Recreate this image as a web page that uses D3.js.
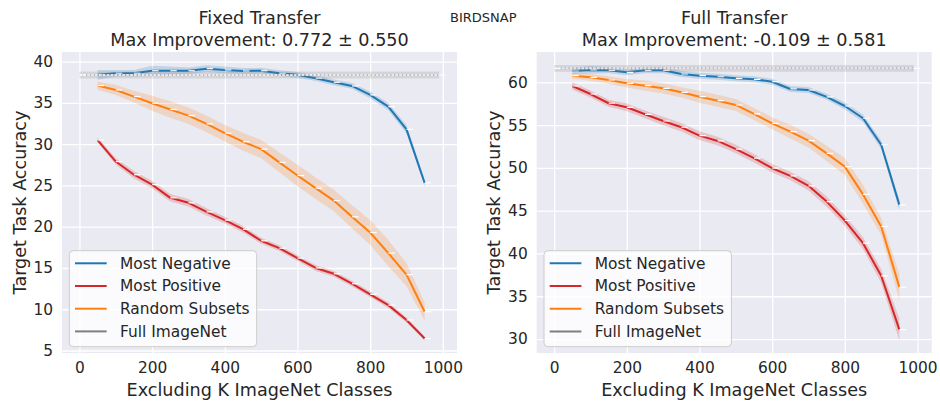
<!DOCTYPE html>
<html>
<head>
<meta charset="utf-8">
<script src="https://cdn.jsdelivr.net/npm/d3@7"></script>
<style>
  body { margin: 0; background: #fff; }
  svg { display: block; font-family: "DejaVu Sans", sans-serif; }
</style>
</head>
<body>
<svg id="chart" width="940" height="401"></svg>
<script>
// Number of excluded ImageNet classes
const kValues = [50, 100, 150, 200, 250, 300, 350, 400, 450, 500, 550, 600, 650, 700, 750, 800, 850, 900, 950];
const fullKValues = [0, 990];
const xTicks = [0, 200, 400, 600, 800, 1000];
const seriesNames = ["Most Negative", "Most Positive", "Random Subsets", "Full ImageNet"];

// Fixed transfer: mean accuracy and confidence half-width
const fixedNegative    = [38.4, 38.6, 38.6, 38.9, 38.9, 38.9, 39.15, 39.0, 38.87, 38.9, 38.6, 38.4, 38.0, 37.5, 37.06, 35.97, 34.55, 31.8, 25.3];
const fixedNegativeErr = [0.6, 0.4, 0.4, 0.6, 0.5, 0.4, 0.4, 0.4, 0.35, 0.35, 0.35, 0.35, 0.35, 0.35, 0.35, 0.4, 0.45, 0.5, 0.4];
const fixedPositive    = [30.5, 27.9, 26.3, 25.1, 23.5, 22.9, 21.8, 20.8, 19.7, 18.3, 17.4, 16.2, 15.0, 14.3, 13.1, 11.8, 10.5, 8.7, 6.45];
const fixedPositiveErr = [0.3, 0.4, 0.45, 0.45, 0.45, 0.45, 0.45, 0.4, 0.4, 0.35, 0.35, 0.35, 0.35, 0.35, 0.35, 0.35, 0.35, 0.3, 0.25];
const fixedRandom      = [37.1, 36.57, 35.76, 34.96, 34.2, 33.46, 32.46, 31.33, 30.3, 29.4, 27.8, 26.2, 24.67, 23.17, 21.2, 19.3, 16.8, 14.2, 9.7];
const fixedRandomErr   = [0.5, 0.6, 0.7, 0.9, 1.0, 1.0, 1.0, 1.0, 1.1, 1.1, 1.2, 1.3, 1.3, 1.3, 1.4, 1.5, 1.6, 1.4, 1.1];
const fixedFull        = [38.39, 38.39];
const fixedFullErr     = [0.42, 0.42];

// Full transfer: mean accuracy and confidence half-width
const fullNegative     = [61.32, 61.44, 61.4, 61.17, 61.4, 61.4, 60.97, 60.77, 60.65, 60.46, 60.35, 60.07, 59.22, 59.1, 58.3, 57.23, 55.8, 52.7, 45.68];
const fullNegativeErr  = [0.35, 0.45, 0.35, 0.35, 0.35, 0.35, 0.35, 0.35, 0.35, 0.35, 0.35, 0.35, 0.35, 0.35, 0.35, 0.4, 0.45, 0.5, 0.6];
const fullPositive     = [59.57, 58.63, 57.55, 57.08, 56.26, 55.48, 54.75, 53.77, 53.15, 52.2, 51.13, 49.96, 49.06, 47.9, 46.06, 43.85, 41.2, 37.39, 31.1];
const fullPositiveErr  = [0.45, 0.4, 0.4, 0.45, 0.45, 0.5, 0.5, 0.5, 0.5, 0.5, 0.5, 0.5, 0.5, 0.55, 0.6, 0.6, 0.7, 0.8, 1.3];
const fullRandom       = [60.77, 60.58, 60.27, 59.88, 59.6, 59.3, 58.83, 58.32, 57.85, 57.35, 56.3, 55.2, 54.23, 53.18, 51.7, 50.15, 46.9, 43.15, 36.07];
const fullRandomErr    = [0.35, 0.4, 0.45, 0.5, 0.6, 0.6, 0.6, 0.7, 0.7, 0.7, 0.7, 0.7, 0.8, 0.8, 0.9, 1.0, 1.1, 1.0, 1.5];
const fullFull         = [61.63, 61.63];
const fullFullErr      = [0.4, 0.4];

const fixedYTicks = [5, 10, 15, 20, 25, 30, 35, 40];
const fullYTicks = [30, 35, 40, 45, 50, 55, 60];

const colors = { "Most Negative": "#1f77b4", "Most Positive": "#d62728", "Random Subsets": "#ff7f0e", "Full ImageNet": "#7f7f7f" };
const textColor = "#262626";

const svg = d3.select("#chart");

svg.append("text")
  .attr("x", 483.3).attr("y", 22)
  .attr("text-anchor", "middle")
  .attr("font-size", 13)
  .attr("fill", textColor)
  .text("BIRDSNAP");

function series(name, xs, ys, errs) {
  return { name, points: xs.map((x, i) => ({ x, y: ys[i], e: errs[i] })) };
}

const panels = [
  {
    left: 62, top: 52, width: 395, height: 301,
    yDomain: [4.7, 41.17], yTicks: fixedYTicks,
    title: "Fixed Transfer", subtitle: "Max Improvement: 0.772 \u00b1 0.550",
    series: [
      series("Most Negative", kValues, fixedNegative, fixedNegativeErr),
      series("Most Positive", kValues, fixedPositive, fixedPositiveErr),
      series("Random Subsets", kValues, fixedRandom, fixedRandomErr),
      series("Full ImageNet", fullKValues, fixedFull, fixedFullErr)
    ]
  },
  {
    left: 536.7, top: 52, width: 395, height: 301,
    yDomain: [28.37, 63.54], yTicks: fullYTicks,
    title: "Full Transfer", subtitle: "Max Improvement: -0.109 \u00b1 0.581",
    series: [
      series("Most Negative", kValues, fullNegative, fullNegativeErr),
      series("Most Positive", kValues, fullPositive, fullPositiveErr),
      series("Random Subsets", kValues, fullRandom, fullRandomErr),
      series("Full ImageNet", fullKValues, fullFull, fullFullErr)
    ]
  }
];

panels.forEach(p => {
  const x = d3.scaleLinear().domain([-48, 1039]).range([p.left, p.left + p.width]);
  const y = d3.scaleLinear().domain(p.yDomain).range([p.top + p.height, p.top]);
  const g = svg.append("g");
  const cx = p.left + p.width / 2;

  // titles
  g.append("text").attr("x", cx).attr("y", 24).attr("text-anchor", "middle")
    .attr("font-size", 17.6).attr("fill", textColor).text(p.title);
  g.append("text").attr("x", cx).attr("y", 46).attr("text-anchor", "middle")
    .attr("font-size", 17.6).attr("fill", textColor).text(p.subtitle);

  // plot background
  g.append("rect").attr("x", p.left).attr("y", p.top)
    .attr("width", p.width).attr("height", p.height).attr("fill", "#eaeaf2");

  // grid lines
  const gridX = g.append("g").attr("transform", `translate(0,${p.top + p.height})`)
    .call(d3.axisBottom(x).tickValues(xTicks).tickSize(-p.height).tickFormat(""));
  const gridY = g.append("g").attr("transform", `translate(${p.left},0)`)
    .call(d3.axisLeft(y).tickValues(p.yTicks).tickSize(-p.width).tickFormat(""));
  [gridX, gridY].forEach(a => {
    a.select(".domain").remove();
    a.selectAll("line").attr("stroke", "#fff").attr("stroke-width", 1.3);
  });

  // tick labels
  const axX = g.append("g").attr("transform", `translate(0,${p.top + p.height})`)
    .call(d3.axisBottom(x).tickValues(xTicks).tickFormat(d3.format("d")).tickSize(0).tickPadding(9));
  const axY = g.append("g").attr("transform", `translate(${p.left},0)`)
    .call(d3.axisLeft(y).tickValues(p.yTicks).tickFormat(d3.format("d")).tickSize(0).tickPadding(9));
  [axX, axY].forEach(a => {
    a.select(".domain").remove();
    a.selectAll("text").attr("font-size", 15.4).attr("fill", textColor)
      .attr("font-family", "DejaVu Sans, sans-serif");
  });

  // axis labels
  g.append("text").attr("x", cx).attr("y", 396).attr("text-anchor", "middle")
    .attr("font-size", 17.6).attr("fill", textColor).text("Excluding K ImageNet Classes");
  g.append("text")
    .attr("transform", `translate(${p.left - 36.5},${p.top + p.height / 2}) rotate(-90)`)
    .attr("text-anchor", "middle")
    .attr("font-size", 17.6).attr("fill", textColor).text("Target Task Accuracy");

  // data
  const clipId = "clip" + Math.round(p.left);
  svg.append("clipPath").attr("id", clipId).append("rect")
    .attr("x", p.left).attr("y", p.top).attr("width", p.width).attr("height", p.height);
  const plot = g.append("g").attr("clip-path", `url(#${clipId})`);

  const area = d3.area().x(d => x(d.x)).y0(d => y(d.y - d.e)).y1(d => y(d.y + d.e));
  const line = d3.line().x(d => x(d.x)).y(d => y(d.y));

  p.series.forEach(s => {
    const c = colors[s.name];
    const isFull = s.name === "Full ImageNet";
    plot.append("path").datum(s.points).attr("d", area)
      .attr("fill", c).attr("fill-opacity", 0.2).attr("stroke", "none");
    plot.append("path").datum(s.points).attr("d", line)
      .attr("fill", "none").attr("stroke", c).attr("stroke-width", 2)
      .attr("stroke-opacity", isFull ? 0.3 : 1)
      .attr("stroke-linejoin", "round");
    if (isFull) {
      // densely placed white tick markers read as a dotted overlay
      plot.append("path").datum(s.points).attr("d", line)
        .attr("fill", "none").attr("stroke", "#f6f6f8").attr("stroke-width", 2)
        .attr("stroke-opacity", 0.8).attr("stroke-dasharray", "2.6,1.3");
    }
    plot.selectAll(null).data(s.points).enter().append("line")
      .attr("x1", d => x(d.x)).attr("x2", d => x(d.x) + 6.5)
      .attr("y1", d => y(d.y)).attr("y2", d => y(d.y))
      .attr("stroke", "#fff").attr("stroke-width", 1.2);
  });

  // legend
  const lx = p.left + 7.3, ly = 250.7;
  const leg = g.append("g");
  leg.append("rect").attr("x", lx).attr("y", ly).attr("width", 187.4).attr("height", 96)
    .attr("rx", 4).attr("fill", "#fff").attr("fill-opacity", 0.8)
    .attr("stroke", "#cccccc").attr("stroke-width", 1);
  seriesNames.forEach((n, i) => {
    const yy = ly + 12.6 + i * 22.7;
    leg.append("line").attr("x1", lx + 5.7).attr("x2", lx + 37.4)
      .attr("y1", yy).attr("y2", yy).attr("stroke", colors[n]).attr("stroke-width", 2);
    leg.append("text").attr("x", lx + 50.7).attr("y", yy).attr("dy", "0.35em")
      .attr("font-size", 15.4).attr("fill", textColor).text(n);
  });
});
</script>
</body>
</html>
